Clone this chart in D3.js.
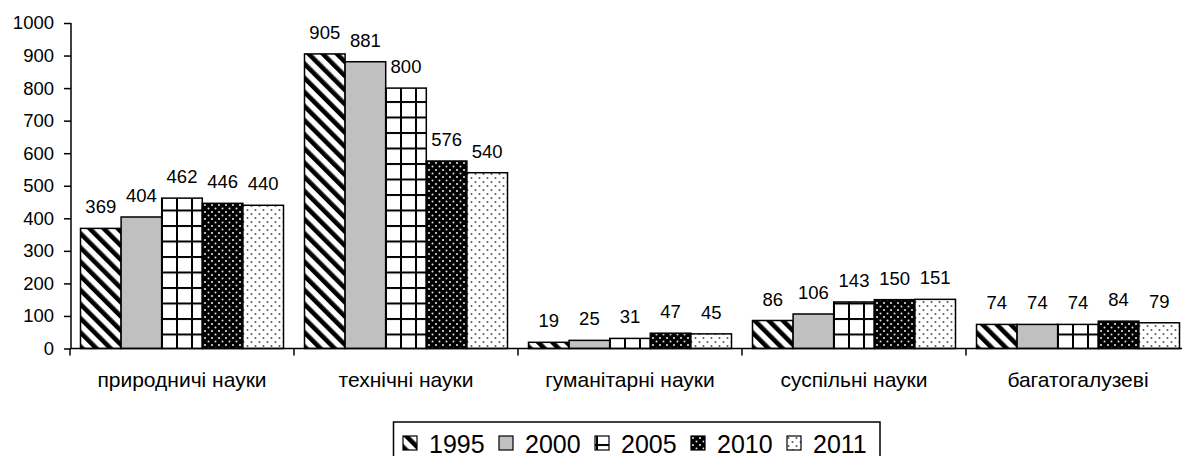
<!DOCTYPE html>
<html>
<head>
<meta charset="utf-8">
<script src="https://cdn.jsdelivr.net/npm/d3@7"></script>
<style>
	body { margin: 0; background: #fff; }
	svg { display: block; font-family: "Liberation Sans", Arial, sans-serif; }
</style>
</head>
<body>
<div id="chart"></div>
<script>
var width = 1182,
	height = 456;

var categories = ['природничі науки', 'технічні науки', 'гуманітарні науки', 'суспільні науки', 'багатогалузеві'];
var years = ['1995', '2000', '2005', '2010', '2011'];
var values1995 = [369, 905, 19, 86, 74];
var values2000 = [404, 881, 25, 106, 74];
var values2005 = [462, 800, 31, 143, 74];
var values2010 = [446, 576, 47, 150, 84];
var values2011 = [440, 540, 45, 151, 79];
var yTicks = [0, 100, 200, 300, 400, 500, 600, 700, 800, 900, 1000];

var series = [values1995, values2000, values2005, values2010, values2011];

var svg = d3.select('#chart').append('svg')
	.attr('width', width)
	.attr('height', height);

// fill patterns
var defs = svg.append('defs');

var p1 = defs.append('pattern')
	.attr('id', 'p1995')
	.attr('patternUnits', 'userSpaceOnUse')
	.attr('width', 10).attr('height', 10)
	.attr('patternTransform', 'rotate(-45)');
p1.append('rect').attr('width', 10).attr('height', 10).style('fill', '#fff');
p1.append('rect').attr('width', 4.6).attr('height', 10).style('fill', '#000');

defs.append('pattern')
	.attr('id', 'p2000')
	.attr('patternUnits', 'userSpaceOnUse')
	.attr('width', 10).attr('height', 10)
	.append('rect').attr('width', 10).attr('height', 10).style('fill', '#c0c0c0');

var p3 = defs.append('pattern')
	.attr('id', 'p2005')
	.attr('patternUnits', 'userSpaceOnUse')
	.attr('width', 15).attr('height', 15.5)
	.attr('x', 1).attr('y', 8);
p3.append('rect').attr('width', 15).attr('height', 15.5).style('fill', '#fff');
p3.append('rect').attr('x', 0).attr('width', 2).attr('height', 15.5).style('fill', '#000');
p3.append('rect').attr('y', 0).attr('width', 15).attr('height', 2).style('fill', '#000');

var p4 = defs.append('pattern')
	.attr('id', 'p2010')
	.attr('patternUnits', 'userSpaceOnUse')
	.attr('width', 7).attr('height', 7);
p4.append('rect').attr('width', 7).attr('height', 7).style('fill', '#000');
p4.append('circle').attr('cx', 2).attr('cy', 2).attr('r', 1.1).style('fill', '#e0e0e0');
p4.append('circle').attr('cx', 5.5).attr('cy', 5.5).attr('r', 1).style('fill', '#e0e0e0');

var p5 = defs.append('pattern')
	.attr('id', 'p2011')
	.attr('patternUnits', 'userSpaceOnUse')
	.attr('width', 8).attr('height', 8);
p5.append('rect').attr('width', 8).attr('height', 8).style('fill', '#fff');
p5.append('circle').attr('cx', 1.5).attr('cy', 2).attr('r', 1).style('fill', '#555');
p5.append('circle').attr('cx', 5.5).attr('cy', 6).attr('r', 1).style('fill', '#555');

// scales
var x = d3.scaleBand()
	.domain(categories)
	.range([70, 1190]);

var xInner = d3.scaleBand()
	.domain(years)
	.range([10.5, x.bandwidth() - 10.5]);

var y = d3.scaleLinear()
	.domain([0, 1000])
	.range([348.5, 23]);

// bars
var groups = svg.append('g')
	.selectAll('g.group')
	.data(categories)
	.enter()
	.append('g')
	.attr('class', 'group')
	.attr('transform', function(d) { return 'translate(' + x(d) + ',0)'; });

groups.selectAll('rect')
	.data(function(d, i) {
		return years.map(function(yr, j) { return { year: yr, value: series[j][i] }; });
	})
	.enter()
	.append('rect')
	.attr('x', function(d) { return xInner(d.year); })
	.attr('y', function(d) { return y(d.value); })
	.attr('width', xInner.bandwidth())
	.attr('height', function(d) { return y(0) - y(d.value); })
	.style('fill', function(d) { return 'url(#p' + d.year + ')'; })
	.style('stroke', '#000')
	.style('stroke-width', 1.5);

groups.selectAll('text')
	.data(function(d, i) {
		return years.map(function(yr, j) { return { year: yr, value: series[j][i] }; });
	})
	.enter()
	.append('text')
	.attr('x', function(d) { return xInner(d.year) + xInner.bandwidth() / 2; })
	.attr('y', function(d) { return y(d.value) - 15; })
	.attr('text-anchor', 'middle')
	.style('font-size', '18.5px')
	.style('fill', '#000')
	.text(function(d) { return d; });

groups.selectAll('text').text(function(d) { return d.value; });

// y axis
var yAxis = svg.append('g')
	.attr('transform', 'translate(71,0)')
	.call(d3.axisLeft(y).tickValues(yTicks).tickFormat(d3.format('d')).tickSize(7).tickPadding(10));
yAxis.select('.domain').attr('d', 'M0,' + y(1000) + 'V' + y(0)).style('stroke-width', 1.5);
yAxis.selectAll('.tick line').style('stroke-width', 1.5);
yAxis.selectAll('.tick text').style('font-size', '18.5px').style('fill', '#000')
	.style('font-family', '"Liberation Sans", Arial, sans-serif');

// x axis: ticks on the category boundaries, labels in the middle
var xAxis = svg.append('g');
xAxis.append('line')
	.attr('x1', 71).attr('x2', 1190)
	.attr('y1', y(0)).attr('y2', y(0))
	.style('stroke', '#000').style('stroke-width', 1.5);
xAxis.selectAll('line.tick')
	.data(categories)
	.enter()
	.append('line')
	.attr('class', 'tick')
	.attr('x1', function(d) { return x(d); })
	.attr('x2', function(d) { return x(d); })
	.attr('y1', y(0)).attr('y2', y(0) + 7)
	.style('stroke', '#000').style('stroke-width', 1.5);
xAxis.selectAll('text')
	.data(categories)
	.enter()
	.append('text')
	.attr('x', function(d) { return x(d) + x.bandwidth() / 2; })
	.attr('y', 387)
	.attr('text-anchor', 'middle')
	.style('font-size', '21px')
	.text(function(d) { return d; });

// legend
var legend = svg.append('g');
legend.append('rect')
	.attr('x', 393.5).attr('y', 422)
	.attr('width', 486.5).attr('height', 60)
	.style('fill', '#fff')
	.style('stroke', '#000')
	.style('stroke-width', 1.5);

var items = legend.selectAll('g.item')
	.data(years)
	.enter()
	.append('g')
	.attr('class', 'item')
	.attr('transform', function(d, i) { return 'translate(' + (403 + i * 96) + ',436)'; });
items.append('rect')
	.attr('width', 14).attr('height', 14)
	.style('fill', function(d) { return 'url(#p' + d + ')'; })
	.style('stroke', '#000')
	.style('stroke-width', 1.2);
items.append('text')
	.attr('x', 26).attr('y', 16.5)
	.style('font-size', '25px')
	.text(function(d) { return d; });
</script>
</body>
</html>
